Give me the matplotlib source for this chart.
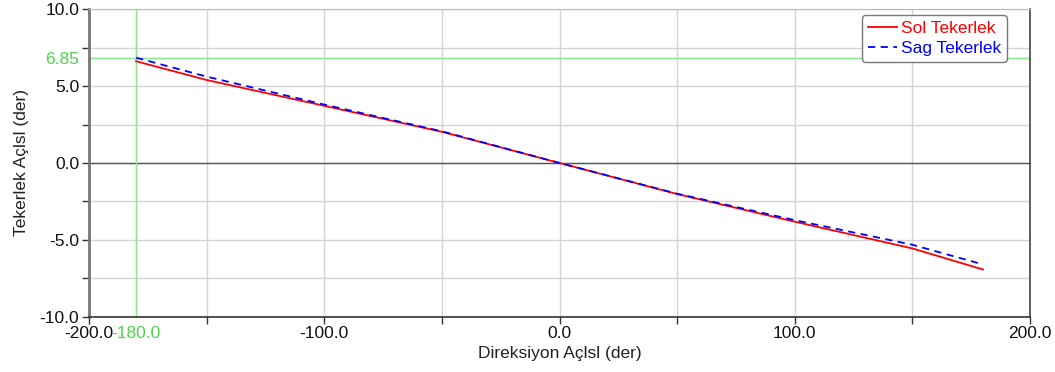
import matplotlib.pyplot as plt
from matplotlib.ticker import MultipleLocator

plt.rcParams['font.family'] = ['Liberation Sans', 'DejaVu Sans']

# direksiyon acisi (der)
aci = [-180, -150, -100, -50, 0, 50, 100, 150, 180]
sol_tekerlek = [6.62, 5.40, 3.72, 2.03, 0.0, -2.02, -3.82, -5.56, -6.93]
sag_tekerlek = [6.85, 5.62, 3.80, 2.06, 0.0, -2.00, -3.72, -5.32, -6.60]

x_ticks = [-200, -100, 0, 100, 200]
y_ticks = [-10, -5, 0, 5, 10]
marker_x = -180
marker_y = 6.85

green = '#4cd64c'
fs = 12.5

fig = plt.figure(figsize=(10.55, 3.72), dpi=100)
ax = fig.add_axes([0.0844, 0.1487, 0.8919, 0.8263])

ax.set_xlim(-200, 200)
ax.set_ylim(-10, 10)
ax.xaxis.set_minor_locator(MultipleLocator(50))
ax.yaxis.set_minor_locator(MultipleLocator(2.5))
ax.grid(True, which='both', color='#d4d4d4', linewidth=1)
ax.set_axisbelow(True)

ax.axhline(0, color='#555555', linewidth=1, zorder=1)
ax.axvline(marker_x, color='#8fe88f', linewidth=1, zorder=1)
ax.axhline(marker_y, color='#8fe88f', linewidth=1, zorder=1)

ax.plot(aci, sol_tekerlek, color='red', linewidth=1.3, label='Sol Tekerlek', zorder=3)
ax.plot(aci, sag_tekerlek, color='blue', linewidth=1.3, linestyle=(0, (4, 3)),
        label='Sag Tekerlek', zorder=4)

xt = x_ticks + [marker_x]
ax.set_xticks(xt)
ax.set_xticklabels(['%.1f' % v for v in xt])
yt = y_ticks + [marker_y]
ax.set_yticks(yt)
ax.set_yticklabels(['%.1f' % v if v != marker_y else '%.2f' % v for v in yt])

ax.tick_params(which='both', direction='out', color='#333333', labelsize=fs,
               labelcolor='#111111', pad=2)
ax.tick_params(which='both', length=5, width=1)
for t, v in zip(ax.xaxis.get_major_ticks(), xt):
    if v == marker_x:
        t.tick1line.set_visible(False)
        t.label1.set_color(green)
for t, v in zip(ax.yaxis.get_major_ticks(), yt):
    if v == marker_y:
        t.tick1line.set_visible(False)
        t.label1.set_color(green)

ax.spines['left'].set_color('#777777')
ax.spines['left'].set_linewidth(2)
ax.spines['bottom'].set_color('#333333')
ax.spines['bottom'].set_linewidth(1.2)
ax.spines['right'].set_color('#444444')
ax.spines['right'].set_linewidth(1.2)
ax.spines['top'].set_color('#bbbbbb')

ax.set_xlabel('Direksiyon Açlsl (der)', fontsize=fs, color='#222222', labelpad=3)
ax.set_ylabel('Tekerlek Açlsl (der)', fontsize=fs, color='#222222', labelpad=8)

leg = ax.legend(loc='upper right', fontsize=fs, handlelength=1.7, handletextpad=0.2,
                labelspacing=0.25, borderpad=0.35, borderaxespad=0, fancybox=True,
                framealpha=1, edgecolor='#777777', bbox_to_anchor=(0.9755, 0.981))
for txt, c in zip(leg.get_texts(), ['red', 'blue']):
    txt.set_color(c)

fig.savefig('out.png', dpi=100)
